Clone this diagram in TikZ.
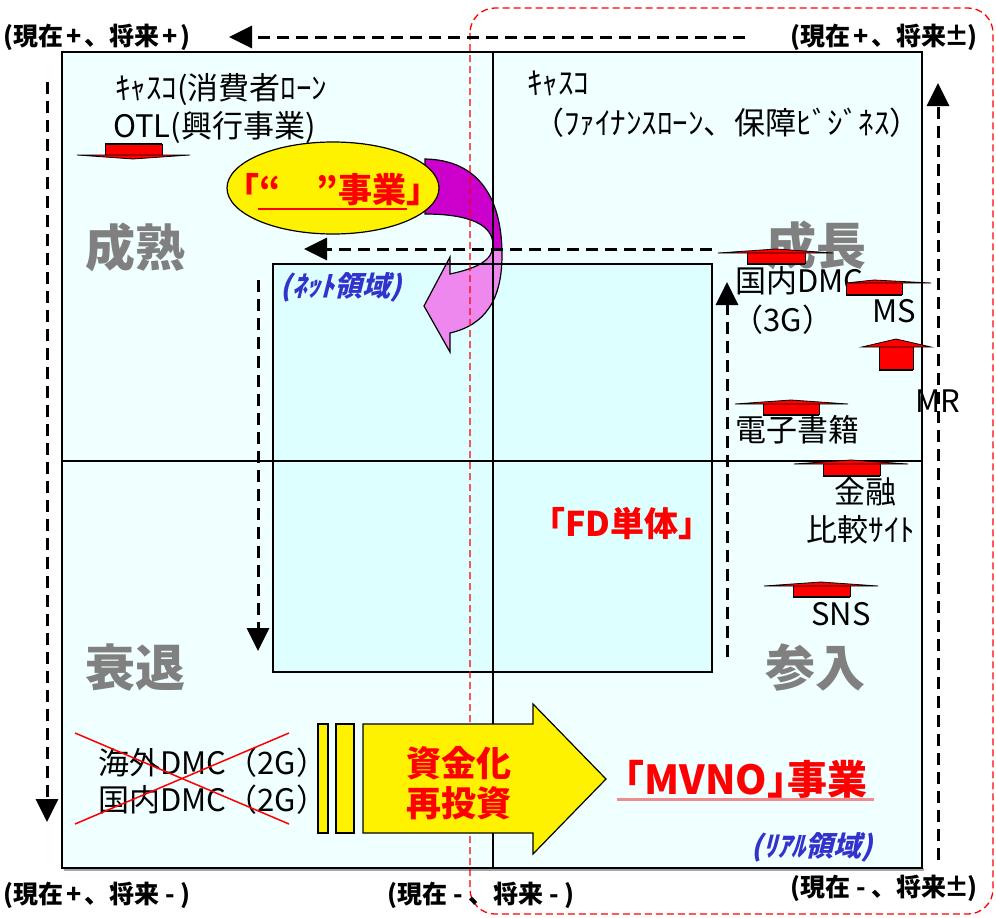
\documentclass[tikz,border=0pt]{standalone}
\usepackage{fontspec}
\newfontfamily\jp{Noto Sans CJK JP}
\newfontfamily\jph[RawFeature=+halt]{Noto Sans CJK JP}
\newfontfamily\jpsl[FakeSlant=0.25]{Noto Sans CJK JP}
\usetikzlibrary{arrows.meta}
\definecolor{outerc}{HTML}{F0FFFF}
\definecolor{innerc}{HTML}{DDFFFF}
\definecolor{grayc}{HTML}{808080}
\definecolor{darkmag}{HTML}{CC00CC}
\definecolor{lightmag}{HTML}{EE88EE}
\definecolor{bluec}{HTML}{3333CC}
\definecolor{ulred}{HTML}{F08C8C}
\newcommand\sgn[1]{\makebox[0.85em]{#1}}
\tikzset{
  lbl/.style={font=\jp\bfseries\fontsize{25}{27}\selectfont, inner sep=0pt},
  txt/.style={font=\jp\fontsize{31}{35}\selectfont, inner sep=0pt},
  big/.style={font=\jp\bfseries\fontsize{50}{54}\selectfont, text=grayc, inner sep=0pt},
  redb/.style={font=\jph\bfseries\fontsize{34}{40}\selectfont, text=red, inner sep=0pt},
  area/.style={font=\jpsl\bfseries\fontsize{28}{30}\selectfont, text=bluec, inner sep=0pt},
  darrow/.style={line width=3pt, dash pattern=on 12pt off 7pt, -{Triangle[length=23pt,width=22pt]}},
  frame/.style={line width=1.2pt, draw=black},
  pics/mk/.style n args={6}{code={
    \fill[red] (#3,0) rectangle (#4,#5);
    \draw[line width=0.6pt] (#3,0) -- (#3,#5) (#4,0) -- (#4,#5);
    \draw[line width=2.5pt] (#3,#5) -- (#4,#5);
    \filldraw[fill=red, draw=black, line width=0.8pt] (#1,0) -- (0,-#6) -- (#2,0) -- cycle;
  }}
}
\begin{document}
\begin{tikzpicture}[x=1pt,y=-1pt]
\useasboundingbox (0,0) rectangle (996,918);
\fill[white] (0,0) rectangle (996,918);
% backgrounds
\fill[gray!70] (64,868) rectangle (924,871);
\filldraw[fill=outerc, frame] (62,52) rectangle (922,868);
\fill[innerc] (273,264) rectangle (712,672);
% big gray labels
\node[big] (seijuku) at (135,247) {成熟};
\node[big] (seicho) at (816,245) {成長};
\node[big] (suitai) at (135,668) {衰退};
\node[big] (sannyu) at (815,668) {参入};
% curved magenta arrow
\def\curvarrow{(425,159) .. controls (480,160) and (502,200) .. (502,255) .. controls (502,300) and (485,325) .. (450,333) -- (450,352) -- (424,306) -- (450,257) -- (450,274) .. controls (478,268) and (493,260) .. (493,245) .. controls (493,225) and (470,214) .. (425,214) -- cycle}
\fill[lightmag] \curvarrow;
\begin{scope}
  \clip (400,140) rectangle (520,250);
  \fill[darkmag] \curvarrow;
\end{scope}
\draw[line width=1.2pt] \curvarrow;
% dividers and inner frame
\draw[frame] (493,52) -- (493,868);
\draw[frame] (62,461) -- (922,461);
\draw[frame] (273,264) rectangle (712,672);
% red dashed frame
\draw[red, line width=1.3pt, dash pattern=on 7pt off 4pt, rounded corners=25pt] (470,8) rectangle (993,914);
% ellipse
\filldraw[fill=yellow, frame] (333,188) ellipse [x radius=106, y radius=46];
\node[redb] (jigyo) at (333,190) {「“\hspace{36pt}”事業」};
\draw[red, line width=2pt] (258,209) -- (407,209);
% corner labels
\node[lbl, anchor=west] (tl) at (3,37) {(現在\sgn{+}、将来\sgn{+})};
\node[lbl, anchor=east] (tr) at (978,37) {(現在\sgn{+}、将来\sgn{±})};
\node[lbl, anchor=west] (bl) at (3,895) {(現在\sgn{+}、将来\sgn{-})};
\node[lbl, anchor=west] (bm) at (387,895) {(現在\sgn{-}、将来\sgn{-})};
\node[lbl, anchor=east] (br) at (978,888) {(現在\sgn{-}、将来\sgn{±})};
% dashed arrows
\coordinate (topS) at (745,37); \coordinate (topE) at (229,37);
\coordinate (leftS) at (47,82); \coordinate (leftE) at (47,822);
\coordinate (rightS) at (938,860); \coordinate (rightE) at (938,83);
\coordinate (midS) at (712,249); \coordinate (midE) at (304,249);
\coordinate (inLS) at (258,280); \coordinate (inLE) at (258,651);
\coordinate (inRS) at (727,657); \coordinate (inRE) at (727,282);
\draw[darrow] (topS) -- (topE);
\draw[darrow] (leftS) -- (leftE);
\draw[darrow] (rightS) -- (rightE);
\draw[darrow] (midS) -- (midE);
\draw[darrow] (inLS) -- (inLE);
\draw[darrow] (inRS) -- (inRE);
% texts
\node[txt, anchor=west] (cas1) at (115,90) {ｷｬｽｺ(消費者ﾛｰﾝ};
\node[txt, anchor=west] (otl) at (113,128) {OTL(興行事業)};
\node[txt, anchor=west] (cas2) at (527,83) {ｷｬｽｺ};
\node[txt, anchor=west] (fin) at (533,123) {（ﾌｧｲﾅﾝｽﾛｰﾝ、保障ﾋﾞｼﾞﾈｽ）};
\node[area] (net) at (341,287) {(ﾈｯﾄ領域)};
\node[area] (real) at (812,847) {(ﾘｱﾙ領域)};
\node[redb] (fd) at (622,523) {「FD単体」};
\node[txt, anchor=west] (dmc3) at (735,281) {国内DMC};
\node[txt] (g3) at (783,320) {（3G）};
\node[txt] (ms) at (894,311) {MS};
\node[txt] (mr) at (938,401) {MR};
\node[txt, anchor=west] (ebook) at (735,430) {電子書籍};
\node[txt] (kin) at (865,492) {金融};
\node[txt] (hikaku) at (861,530) {比較ｻｲﾄ};
\node[txt] (sns) at (841,614) {SNS};
% markers
\pic[yscale=-1] at (133,155) {mk={-56}{57}{-28}{29}{11}{4}};
\pic at (776,253) {mk={-58}{57}{-29}{29}{11}{4}};
\pic at (874,283) {mk={-28}{57}{-28}{28}{12}{3}};
\pic at (896,347) {mk={-34}{35}{-17}{17}{23}{8}};
\pic at (791,404) {mk={-56}{57}{-28}{28}{11}{4}};
\pic at (851,464) {mk={-57}{57}{-28}{29}{12}{4}};
\pic at (821,586) {mk={-57}{57}{-28}{29}{11}{4}};
% old DMC crossed out
\node[txt, anchor=west] (dmc2a) at (98,763) {海外DMC（2G）};
\node[txt, anchor=west] (dmc2b) at (98,800) {国内DMC（2G）};
\draw[red, line width=1.5pt] (75,733) -- (289,824);
\draw[red, line width=1.5pt] (75,824) -- (289,733);
% yellow arrow
\filldraw[fill=yellow, frame] (318,724) rectangle (328,833);
\filldraw[fill=yellow, frame] (336,724) rectangle (354,833);
\filldraw[fill=yellow, frame] (363,724) -- (533,724) -- (533,704) -- (606,779) -- (533,854) -- (533,833) -- (363,833) -- cycle;
\node[redb, align=center, font=\jph\bfseries\fontsize{35}{40}\selectfont] (fund) at (459,783) {資金化\\再投資};
% MVNO
\node[redb, font=\jph\bfseries\fontsize{40}{44}\selectfont] (mvno) at (746,779) {「MVNO」事業};
\draw[ulred, line width=3pt] (617,799) -- (874,799);
\end{tikzpicture}
\end{document}
